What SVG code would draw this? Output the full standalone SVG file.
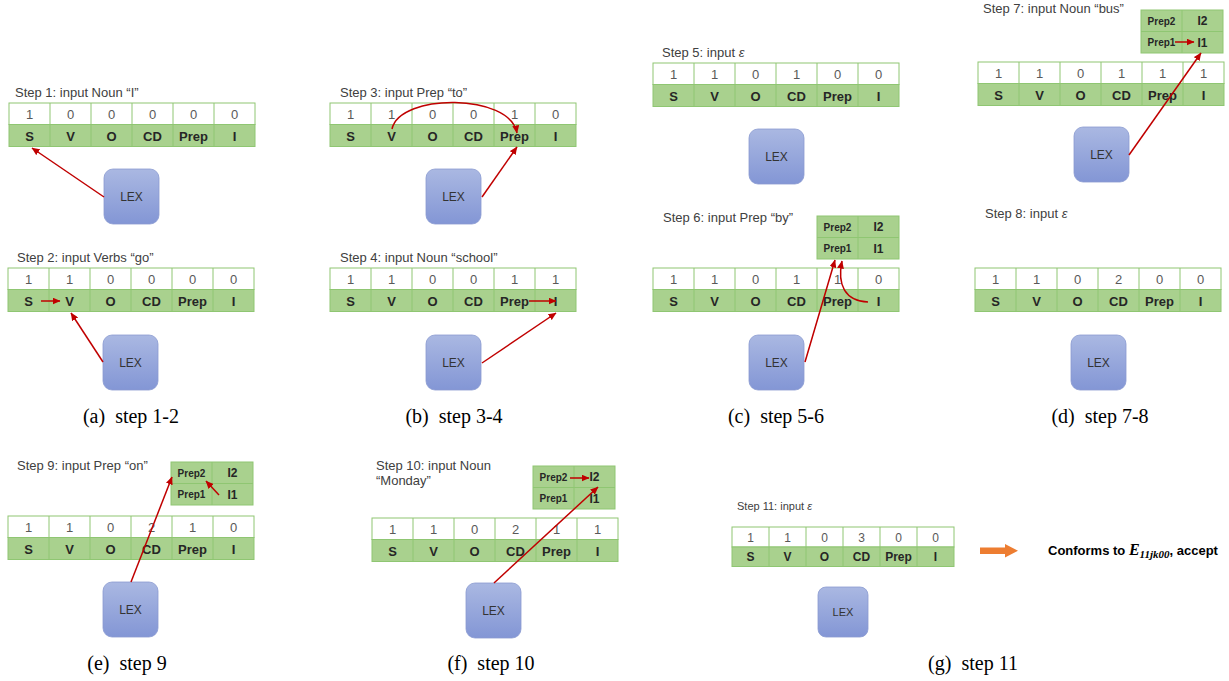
<svg xmlns="http://www.w3.org/2000/svg" xmlns:xlink="http://www.w3.org/1999/xlink" width="1229" height="681" viewBox="0 0 1229 681">
<style>
.lbl{font-family:"Liberation Sans","Noto Sans",sans-serif;font-size:13px;fill:#404040}
.val{font-family:"Liberation Sans","Noto Sans",sans-serif;font-size:13px;fill:#595959;text-anchor:middle}
.hdr{font-family:"Liberation Sans","Noto Sans",sans-serif;font-size:13px;font-weight:bold;fill:#262626;text-anchor:middle}
.sm{font-family:"Liberation Sans","Noto Sans",sans-serif;font-size:10px;font-weight:bold;fill:#262626;text-anchor:middle}
.smI{font-family:"Liberation Sans","Noto Sans",sans-serif;font-size:12px;font-weight:bold;fill:#262626;text-anchor:middle}
.lex{font-family:"Liberation Sans","Noto Sans",sans-serif;font-size:12px;fill:#333;text-anchor:middle}
.cap{font-family:"Liberation Serif","Times New Roman",serif;font-size:20px;fill:#000;text-anchor:middle;white-space:pre}
.ar{fill:none;stroke:#c00000;stroke-width:1.5}
.g{stroke:#8fc672;stroke-width:1}
</style>
<defs>
<linearGradient id="lexg" x1="0" y1="0" x2="0" y2="1">
<stop offset="0" stop-color="#aab8e2"/>
<stop offset="1" stop-color="#8396d5"/>
</linearGradient>
<marker id="ah" markerUnits="userSpaceOnUse" markerWidth="8" markerHeight="7" refX="7.5" refY="3.5" orient="auto">
<path d="M0,0 L8,3.5 L0,7 z" fill="#c00000"/>
</marker>
<g id="grid">
<rect x="0" y="0" width="246" height="21.5" fill="#ffffff" class="g"/>
<rect x="0" y="21.5" width="246" height="22" fill="#a9d18e" class="g"/>
<path class="g" d="M41,0V43.5M82,0V43.5M123,0V43.5M164,0V43.5M205,0V43.5"/>
</g>
<g id="small">
<rect x="0" y="0" width="82" height="43" fill="#a9d18e" class="g"/>
<path class="g" d="M41,0V43M0,21.5H82"/>
<text class="sm" x="20.5" y="14.5">Prep2</text>
<text class="smI" x="61.5" y="15">I2</text>
<text class="sm" x="20.5" y="36">Prep1</text>
<text class="smI" x="61.5" y="36.5">I1</text>
</g>
<g id="hdrs">
<text class="hdr" x="20.5" y="38">S</text>
<text class="hdr" x="61.5" y="38">V</text>
<text class="hdr" x="102.5" y="38">O</text>
<text class="hdr" x="143.5" y="38">CD</text>
<text class="hdr" x="184.5" y="38">Prep</text>
<text class="hdr" x="225.5" y="38">I</text>
</g>
<g id="lexbox">
<rect x="0" y="0" width="55" height="55" rx="9" fill="url(#lexg)" stroke="#8a9bd0" stroke-width="0.8"/>
<text class="lex" x="27.5" y="32">LEX</text>
</g>
</defs>
<rect width="1229" height="681" fill="#ffffff"/>

<!-- Step 1 -->
<g id="step1">
<text class="lbl" x="15" y="97">Step 1: input Noun “I”</text>
<g transform="translate(9,103)"><use xlink:href="#grid"/><use xlink:href="#hdrs"/>
<text class="val" x="20.5" y="16">1</text><text class="val" x="61.5" y="16">0</text><text class="val" x="102.5" y="16">0</text><text class="val" x="143.5" y="16">0</text><text class="val" x="184.5" y="16">0</text><text class="val" x="225.5" y="16">0</text></g>
</g>
<g id="lex1" transform="translate(104,169)"><use xlink:href="#lexbox"/></g>

<!-- Step 2 -->
<g id="step2">
<text class="lbl" x="17" y="262">Step 2: input Verbs “go”</text>
<g transform="translate(8,268)"><use xlink:href="#grid"/><use xlink:href="#hdrs"/>
<text class="val" x="20.5" y="16">1</text><text class="val" x="61.5" y="16">1</text><text class="val" x="102.5" y="16">0</text><text class="val" x="143.5" y="16">0</text><text class="val" x="184.5" y="16">0</text><text class="val" x="225.5" y="16">0</text></g>
</g>
<g id="lex2" transform="translate(103,335)"><use xlink:href="#lexbox"/></g>

<!-- Step 3 -->
<g id="step3">
<text class="lbl" x="340" y="97">Step 3: input Prep “to”</text>
<g transform="translate(330,103)"><use xlink:href="#grid"/><use xlink:href="#hdrs"/>
<text class="val" x="20.5" y="16">1</text><text class="val" x="61.5" y="16">1</text><text class="val" x="102.5" y="16">0</text><text class="val" x="143.5" y="16">0</text><text class="val" x="184.5" y="16">1</text><text class="val" x="225.5" y="16">0</text></g>
</g>
<g id="lex3" transform="translate(426,169)"><use xlink:href="#lexbox"/></g>

<!-- Step 4 -->
<g id="step4">
<text class="lbl" x="340" y="262">Step 4: input Noun “school”</text>
<g transform="translate(330,268)"><use xlink:href="#grid"/><use xlink:href="#hdrs"/>
<text class="val" x="20.5" y="16">1</text><text class="val" x="61.5" y="16">1</text><text class="val" x="102.5" y="16">0</text><text class="val" x="143.5" y="16">0</text><text class="val" x="184.5" y="16">1</text><text class="val" x="225.5" y="16">1</text></g>
</g>
<g id="lex4" transform="translate(426,335)"><use xlink:href="#lexbox"/></g>

<!-- Step 5 -->
<g id="step5">
<text class="lbl" x="662" y="57">Step 5: input <tspan font-style="italic">ε</tspan></text>
<g transform="translate(653,63)"><use xlink:href="#grid"/><use xlink:href="#hdrs"/>
<text class="val" x="20.5" y="16">1</text><text class="val" x="61.5" y="16">1</text><text class="val" x="102.5" y="16">0</text><text class="val" x="143.5" y="16">1</text><text class="val" x="184.5" y="16">0</text><text class="val" x="225.5" y="16">0</text></g>
</g>
<g id="lex5" transform="translate(749,129)"><use xlink:href="#lexbox"/></g>

<!-- Step 6 -->
<g id="step6">
<text class="lbl" x="663" y="222">Step 6: input Prep “by”</text>
<g transform="translate(653,268)"><use xlink:href="#grid"/><use xlink:href="#hdrs"/>
<text class="val" x="20.5" y="16">1</text><text class="val" x="61.5" y="16">1</text><text class="val" x="102.5" y="16">0</text><text class="val" x="143.5" y="16">1</text><text class="val" x="184.5" y="16">1</text><text class="val" x="225.5" y="16">0</text></g>
<g transform="translate(817,216)"><use xlink:href="#small"/></g>
</g>
<g id="lex6" transform="translate(749,335)"><use xlink:href="#lexbox"/></g>

<!-- Step 7 -->
<g id="step7">
<text class="lbl" x="983" y="13">Step 7: input Noun “bus”</text>
<g transform="translate(978,62)"><use xlink:href="#grid"/><use xlink:href="#hdrs"/>
<text class="val" x="20.5" y="16">1</text><text class="val" x="61.5" y="16">1</text><text class="val" x="102.5" y="16">0</text><text class="val" x="143.5" y="16">1</text><text class="val" x="184.5" y="16">1</text><text class="val" x="225.5" y="16">1</text></g>
<g transform="translate(1141,10)"><use xlink:href="#small"/></g>
</g>
<g id="lex7" transform="translate(1074,127)"><use xlink:href="#lexbox"/></g>

<!-- Step 8 -->
<g id="step8">
<text class="lbl" x="985" y="218">Step 8: input <tspan font-style="italic">ε</tspan></text>
<g transform="translate(975,268)"><use xlink:href="#grid"/><use xlink:href="#hdrs"/>
<text class="val" x="20.5" y="16">1</text><text class="val" x="61.5" y="16">1</text><text class="val" x="102.5" y="16">0</text><text class="val" x="143.5" y="16">2</text><text class="val" x="184.5" y="16">0</text><text class="val" x="225.5" y="16">0</text></g>
</g>
<g id="lex8" transform="translate(1071,335)"><use xlink:href="#lexbox"/></g>

<!-- Step 9 -->
<g id="step9">
<text class="lbl" x="17" y="470">Step 9: input Prep “on”</text>
<g transform="translate(8,516)"><use xlink:href="#grid"/><use xlink:href="#hdrs"/>
<text class="val" x="20.5" y="16">1</text><text class="val" x="61.5" y="16">1</text><text class="val" x="102.5" y="16">0</text><text class="val" x="143.5" y="16">2</text><text class="val" x="184.5" y="16">1</text><text class="val" x="225.5" y="16">0</text></g>
<g transform="translate(171,462)"><use xlink:href="#small"/></g>
</g>
<g id="lex9" transform="translate(103,582)"><use xlink:href="#lexbox"/></g>

<!-- Step 10 -->
<g id="step10">
<text class="lbl" x="376" y="470">Step 10: input Noun</text>
<text class="lbl" x="376" y="485">“Monday”</text>
<g transform="translate(372,518)"><use xlink:href="#grid"/><use xlink:href="#hdrs"/>
<text class="val" x="20.5" y="16">1</text><text class="val" x="61.5" y="16">1</text><text class="val" x="102.5" y="16">0</text><text class="val" x="143.5" y="16">2</text><text class="val" x="184.5" y="16">1</text><text class="val" x="225.5" y="16">1</text></g>
<g transform="translate(533,466)"><use xlink:href="#small"/></g>
</g>
<g id="lex10" transform="translate(466,583)"><use xlink:href="#lexbox"/></g>

<!-- Step 11 -->
<g id="step11">
<text class="lbl" x="737" y="510" style="font-size:11px">Step 11: input <tspan font-style="italic">ε</tspan></text>
<g transform="translate(732,527)">
<rect x="0" y="0" width="222" height="20" fill="#ffffff" class="g"/>
<rect x="0" y="20" width="222" height="19.5" fill="#a9d18e" class="g"/>
<path class="g" d="M37,0V39.5M74,0V39.5M111,0V39.5M148,0V39.5M185,0V39.5"/>
<text class="val" x="18.5" y="15" style="font-size:12px">1</text><text class="val" x="55.5" y="15" style="font-size:12px">1</text><text class="val" x="92.5" y="15" style="font-size:12px">0</text><text class="val" x="129.5" y="15" style="font-size:12px">3</text><text class="val" x="166.5" y="15" style="font-size:12px">0</text><text class="val" x="203.5" y="15" style="font-size:12px">0</text>
<text class="hdr" x="18.5" y="34" style="font-size:12px">S</text><text class="hdr" x="55.5" y="34" style="font-size:12px">V</text><text class="hdr" x="92.5" y="34" style="font-size:12px">O</text><text class="hdr" x="129.5" y="34" style="font-size:12px">CD</text><text class="hdr" x="166.5" y="34" style="font-size:12px">Prep</text><text class="hdr" x="203.5" y="34" style="font-size:12px">I</text>
</g>
<path d="M980,547.5H1005V544L1018,550.7L1005,557.5V554H980Z" fill="#ed7d31"/>
<text x="1048" y="555" style="font-family:'Liberation Sans','Noto Sans',sans-serif;font-size:13px;font-weight:bold;fill:#000">Conforms to <tspan style="font-family:'Liberation Serif',serif;font-style:italic;font-size:16px">E</tspan><tspan dy="3" style="font-family:'Liberation Serif',serif;font-style:italic;font-size:11px">11jk00</tspan><tspan dy="-3">, accept</tspan></text>
</g>
<g id="lex11" transform="translate(818,587)">
<rect x="0" y="0" width="50" height="50" rx="8" fill="url(#lexg)" stroke="#8a9bd0" stroke-width="0.8"/>
<text class="lex" x="25" y="29" style="font-size:11px">LEX</text>
</g>

<!-- connectors -->
<g id="connectors">
<line class="ar" x1="104" y1="197" x2="32" y2="148" marker-end="url(#ah)"/>
<line class="ar" x1="103" y1="362" x2="71" y2="313" marker-end="url(#ah)"/>
<line class="ar" x1="41" y1="301" x2="60" y2="301" marker-end="url(#ah)"/>
<line class="ar" x1="482" y1="197" x2="517" y2="147" marker-end="url(#ah)"/>
<path class="ar" d="M392,129 C400,93 510,93 517,133" marker-end="url(#ah)"/>
<line class="ar" x1="482" y1="363" x2="556" y2="313" marker-end="url(#ah)"/>
<line class="ar" x1="529" y1="301" x2="556" y2="301" marker-end="url(#ah)"/>
<line class="ar" x1="805" y1="362" x2="835" y2="260" marker-end="url(#ah)"/>
<path class="ar" d="M868,302 C845,301 837,285 842,261" marker-end="url(#ah)"/>
<line class="ar" x1="1129" y1="155" x2="1201" y2="53" marker-end="url(#ah)"/>
<line class="ar" x1="1175" y1="42" x2="1194" y2="42" marker-end="url(#ah)"/>
<line class="ar" x1="131" y1="582" x2="172" y2="477" marker-end="url(#ah)"/>
<line class="ar" x1="219" y1="495" x2="206" y2="481" marker-end="url(#ah)"/>
<line class="ar" x1="494" y1="583" x2="598" y2="487" marker-end="url(#ah)"/>
<line class="ar" x1="570" y1="478" x2="589" y2="478" marker-end="url(#ah)"/>
</g>

<!-- captions -->
<g id="captions">
<text class="cap" x="131" y="423">(a)  step 1-2</text>
<text class="cap" x="454" y="423">(b)  step 3-4</text>
<text class="cap" x="776" y="423">(c)  step 5-6</text>
<text class="cap" x="1100" y="423">(d)  step 7-8</text>
<text class="cap" x="127" y="670">(e)  step 9</text>
<text class="cap" x="491" y="670">(f)  step 10</text>
<text class="cap" x="973" y="670">(g)  step 11</text>
</g>
</svg>
